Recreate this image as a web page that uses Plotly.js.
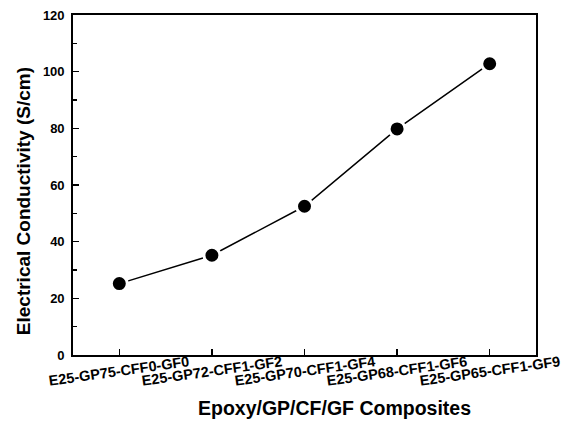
<!DOCTYPE html>
<html>
<head>
<meta charset="utf-8">
<script src="https://cdn.plot.ly/plotly-3.0.1.min.js"></script>
<style>html,body{margin:0;padding:0;background:#fff;}#chart{width:567px;height:421px;}</style>
</head>
<body>
<div id="chart"></div>
<script>
const categories = ["E25-GP75-CFF0-GF0", "E25-GP72-CFF1-GF2", "E25-GP70-CFF1-GF4", "E25-GP68-CFF1-GF6", "E25-GP65-CFF1-GF9"];
const conductivity = [25.2, 35.2, 52.5, 79.8, 102.8];
const xTitle = "Epoxy/GP/CF/GF Composites";
const yTitle = "Electrical Conductivity (S/cm)";

const FONT = "Liberation Sans, Arial, sans-serif";
const xIdx = categories.map((c, i) => i);

const trace = {
  x: xIdx,
  y: conductivity,
  mode: "lines+markers",
  type: "scatter",
  line: {color: "#000", width: 1.5},
  marker: {color: "#000", size: 16, line: {color: "#fff", width: 3}},
  hoverinfo: "skip"
};

const labelAnns = categories.map((c, i) => ({
  x: i, xref: "x", y: -0.047, yref: "paper",
  text: "<b>" + c + "</b>", showarrow: false, textangle: -8,
  xanchor: "center", yanchor: "middle",
  font: {family: FONT, size: 14.5, color: "#000"}
}));

const layout = {
  width: 567, height: 421,
  margin: {l: 73, r: 31, t: 15, b: 66},
  paper_bgcolor: "#fff", plot_bgcolor: "#fff",
  showlegend: false,
  font: {family: FONT, color: "#000"},
  xaxis: {
    range: [-0.5, 4.5],
    tickvals: xIdx,
    showticklabels: false,
    ticks: "inside", ticklen: 6, tickwidth: 1.5, tickcolor: "#000",
    showline: true, linecolor: "#000", linewidth: 1.8, mirror: true,
    showgrid: false, zeroline: false
  },
  yaxis: {
    range: [0, 120], dtick: 20, tick0: 0,
    ticks: "inside", ticklen: 6, tickwidth: 1.5, tickcolor: "#000",
    minor: {dtick: 10, ticks: "inside", ticklen: 4, tickwidth: 1.2, tickcolor: "#000", showgrid: false},
    showline: true, linecolor: "#000", linewidth: 1.8, mirror: true,
    showgrid: false, zeroline: false,
    ticklabelstandoff: 4,
    tickfont: {family: FONT, size: 13, color: "#000", weight: "bold"}
  },
  annotations: labelAnns.concat([
    {x: 320.5 / 567, xref: "paper", y: 0, yref: "paper", yshift: -53,
     text: "<b>" + xTitle + "</b>", showarrow: false, xanchor: "center", yanchor: "middle",
     font: {family: FONT, size: 19.5, color: "#000"}},
    {x: 0, xref: "paper", xshift: -50, y: (355.3 - 201.5) / 340, yref: "paper",
     text: "<b>" + yTitle + "</b>", showarrow: false, textangle: -90, xanchor: "center", yanchor: "middle",
     font: {family: FONT, size: 19, color: "#000"}}
  ])
};

Plotly.newPlot("chart", [trace], layout, {displayModeBar: false, staticPlot: true});
</script>
</body>
</html>
